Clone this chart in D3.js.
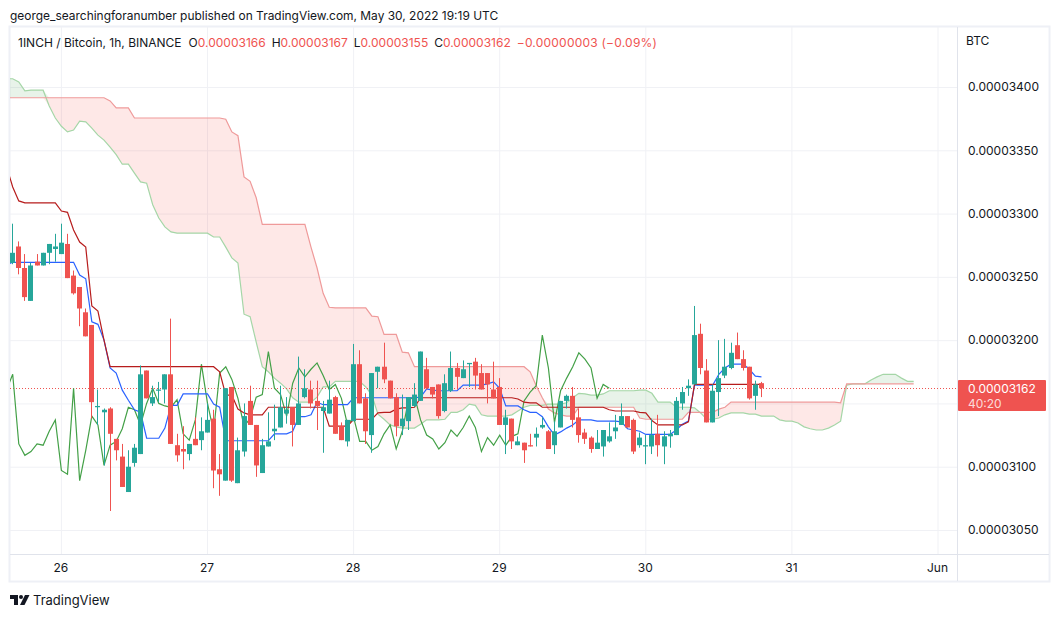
<!DOCTYPE html>
<html>
<head>
<meta charset="utf-8">
<title>1INCH / Bitcoin</title>
<script src="https://cdn.jsdelivr.net/npm/d3@7"></script>
<style>
html, body { margin: 0; padding: 0; background: #fff; }
svg { display: block; font-family: Inter, "Noto Sans", sans-serif; }
.axis path, .axis line { display: none; }
.axis text { font-family: Inter, "Noto Sans", sans-serif; font-size: 12px; fill: #131722; }
.grid path { display: none; }
.grid line { stroke: #f0f1f5; stroke-width: 1; }
</style>
</head>
<body>
<svg id="chart" width="1060" height="617"></svg>
<script>
// all prices in satoshi (1e-8 BTC), bars are hourly from May 25 16:00 UTC
var opens = [
  3261,3274,3257,3231,3262,3259,3269,3272,3268,3276,
  3251,3242,3222,3212,3147,3143,3146,3122,3108,3080,
  3103,3110,3176,3150,3160,3161,3173,3117,3114,3110,
  3122,3121,3127,3138,3098,3089,3163,3087,3112,3152,
  3133,3095,3116,3128,3131,3142,3147,3133,3155,3161,
  3152,3144,3142,3155,3132,3120,3136,3181,3154,3125,
  3175,3179,3168,3155,3132,3136,3148,3152,3177,3163,
  3165,3144,3160,3178,3170,3181,3183,3174,3174,3161,
  3163,3133,3138,3117,3119,3117,3123,3131,3128,3117,
  3131,3152,3156,3139,3127,3123,3114,3116,3120,3128,
  3133,3140,3137,3117,3116,3116,3126,3116,3124,3125,
  3150,3162,3165,3205,3176,3135,3159,3172,3178,3196,
  3185,3179,3156,3166];
var highs = [
  3292,3278,3268,3261,3268,3269,3276,3284,3292,3284,
  3255,3242,3225,3212,3161,3146,3147,3122,3118,3113,
  3118,3180,3176,3164,3167,3173,3217,3126,3132,3118,
  3139,3139,3150,3145,3110,3162,3163,3123,3150,3164,
  3133,3122,3143,3149,3164,3155,3147,3187,3177,3168,
  3168,3152,3168,3156,3135,3137,3197,3192,3158,3174,
  3179,3198,3168,3158,3157,3155,3166,3191,3186,3163,
  3165,3173,3191,3182,3184,3182,3186,3181,3174,3183,
  3170,3145,3138,3124,3119,3126,3131,3139,3129,3136,
  3152,3157,3163,3146,3130,3124,3129,3129,3135,3141,
  3150,3140,3138,3127,3125,3138,3141,3128,3129,3155,
  3163,3169,3227,3213,3185,3165,3200,3201,3198,3206,
  3192,3179,3168,3167];
var lows = [
  3260,3252,3231,3231,3259,3259,3260,3262,3268,3249,
  3236,3211,3203,3138,3133,3101,3065,3105,3084,3080,
  3100,3110,3154,3148,3151,3150,3118,3104,3098,3105,
  3117,3113,3127,3083,3077,3089,3088,3087,3108,3133,
  3092,3095,3116,3121,3131,3134,3116,3133,3154,3146,
  3129,3111,3142,3126,3121,3116,3136,3150,3118,3111,
  3162,3166,3154,3124,3125,3129,3147,3152,3161,3154,
  3138,3143,3159,3161,3170,3163,3161,3161,3150,3154,
  3133,3110,3114,3117,3103,3116,3116,3130,3114,3110,
  3131,3146,3131,3119,3118,3111,3114,3108,3119,3122,
  3133,3131,3110,3115,3102,3110,3108,3102,3115,3125,
  3145,3156,3165,3173,3135,3135,3140,3170,3177,3185,
  3176,3153,3145,3155];
var closes = [
  3269,3257,3234,3259,3259,3269,3276,3274,3277,3249,
  3237,3225,3203,3151,3148,3145,3126,3113,3084,3100,
  3115,3173,3154,3155,3161,3173,3118,3109,3112,3118,
  3117,3128,3137,3097,3094,3162,3089,3113,3140,3133,
  3101,3117,3120,3130,3147,3145,3133,3150,3162,3150,
  3148,3147,3153,3126,3121,3137,3181,3150,3128,3174,
  3179,3169,3154,3132,3138,3155,3157,3191,3162,3157,
  3140,3166,3178,3171,3177,3182,3172,3161,3165,3154,
  3133,3139,3120,3120,3113,3116,3126,3133,3114,3128,
  3152,3156,3137,3125,3122,3114,3119,3129,3124,3131,
  3140,3131,3112,3123,3117,3125,3117,3124,3126,3152,
  3159,3164,3204,3178,3135,3160,3170,3179,3190,3185,
  3178,3154,3165,3162];

// ichimoku lines, all start one bar left of the first candle
var conversion = [
  3259.5,3261.5,3261.5,3261.5,3261.5,3261.5,3261.5,3261.5,3261.5,3261.5,
  3261.5,3261.5,3251.5,3248.5,3214.5,3212.5,3200,3178,3174,3160.5,
  3152.5,3145,3143,3122.5,3122.5,3122.5,3130.5,3148.5,3148.5,3157.5,
  3157.5,3157.5,3157.5,3157.5,3149.5,3147,3120.5,3120.5,3120.5,3120.5,
  3120.5,3120.5,3120.5,3120.5,3126,3126,3126,3128,3139.5,3139.5,
  3141,3151,3149,3149,3149,3149,3149,3154.5,3154.5,3154.5,
  3154.5,3154.5,3154.5,3154.5,3154.5,3154.5,3154.5,3154.5,3155,3161.5,
  3160.5,3160,3160,3160,3160,3164.5,3164.5,3164.5,3164.5,3165.5,
  3167,3162,3148,3148,3148,3145,3143,3143,3139.5,3131.5,
  3125,3127.5,3130.5,3133,3137,3137,3137,3136,3136,3136,
  3136,3135.5,3130,3129,3128,3125.5,3125.5,3125.5,3125.5,3125.5,
  3129,3133.5,3136,3164.5,3164.5,3164.5,3164.5,3173,3178,3181,
  3181,3181,3177,3171.5,3171];
var base = [
  3337,3321,3310,3308.5,3308.5,3308.5,3308.5,3308.5,3308.5,3302,
  3301,3287,3277.5,3273.5,3227,3223,3200,3179,3179,3179,
  3179,3179,3179,3179,3179,3179,3179,3179,3179,3179,
  3179,3179,3179,3179,3179,3175,3156.5,3156.5,3145.5,3142.5,
  3141,3141,3141,3147,3147,3147,3147,3147,3147,3147,
  3147,3147,3147,3132,3132,3132,3132,3137.5,3137.5,3137.5,
  3137.5,3142.5,3143,3143,3145.5,3146.5,3146.5,3147,3154.5,3154.5,
  3154.5,3154.5,3154.5,3154.5,3154.5,3154.5,3154.5,3154.5,3154.5,3154.5,
  3154.5,3154.5,3154.5,3154.5,3153.5,3151,3150.5,3150.5,3147,3147,
  3147,3147,3147,3147,3147,3147,3147,3147,3147,3145,
  3144,3144,3144,3144,3143,3142.5,3136.5,3133,3133,3133,
  3133,3133,3135.5,3165,3165,3165,3165,3165,3165,3165,
  3165,3165,3165,3165,3165];
var lagging = [
  3161,3173,3118,3109,3112,3118,
  3117,3128,3137,3097,3094,3162,3089,3113,3140,3133,
  3101,3117,3120,3130,3147,3145,3133,3150,3162,3150,
  3148,3147,3153,3126,3121,3137,3181,3150,3128,3174,
  3179,3169,3154,3132,3138,3155,3157,3191,3162,3157,
  3140,3166,3178,3171,3177,3182,3172,3161,3165,3154,
  3133,3139,3120,3120,3113,3116,3126,3133,3114,3128,
  3152,3156,3137,3125,3122,3114,3119,3129,3124,3131,
  3140,3131,3112,3123,3117,3125,3117,3124,3126,3152,
  3159,3164,3204,3178,3135,3160,3170,3179,3190,3185,
  3178,3154,3165,3162];
var spanA = [
  3406.5,3406.5,3404,3397,3397.5,3397.5,3397.5,3385,3375.5,3369,
  3364.5,3366,3373,3372.5,3367.5,3362,3358,3352.5,3346.5,3339,
  3339,3332,3325,3324,3307,3296.5,3289.5,3285.5,3284.5,3284.5,
  3284.5,3284.5,3284.5,3284.5,3281.5,3281.5,3273.5,3265,3261,3220.5,
  3218.5,3198.5,3179,3175,3170,3166,3161.5,3154.5,3151,3151,
  3151,3155,3163,3163,3167.5,3167.5,3167.5,3167.5,3167.5,3163,
  3156.5,3141.5,3137.5,3133,3131.5,3130.5,3130.5,3130.5,3133.5,3137,
  3137,3137,3137.5,3143,3143,3145,3149.5,3148.5,3141,3140,
  3140,3140,3140,3141,3144,3147,3148.5,3148.5,3148.5,3149.5,
  3149.5,3149.5,3150.5,3154.5,3158,3157.5,3156.5,3156.5,3157.5,3160,
  3160,3160,3160,3160,3160.5,3160.5,3158,3151,3151,3151,
  3147,3147,3147,3146.5,3142.5,3137.5,3137.5,3138.5,3141,3142.5,
  3142.5,3142.5,3141.5,3141.5,3140,3140,3140,3137,3136,3136,
  3134.5,3131.5,3130,3129,3129,3130.5,3133,3136,3164.5,3165.5,
  3165.5,3165.5,3168.5,3171,3173,3173,3173,3170,3167.5,3167.5];
var spanB = [
  3391.5,3391.5,3391.5,3391.5,3391.5,3391.5,3391.5,3391.5,3391.5,3391.5,
  3391.5,3391.5,3391.5,3391.5,3391.5,3391.5,3391.5,3389,3383.5,3383.5,
  3383.5,3375.5,3375.5,3375.5,3375.5,3375.5,3375.5,3375.5,3375.5,3375.5,
  3375.5,3375.5,3375.5,3375.5,3375.5,3375.5,3374.5,3364.5,3361.5,3329,
  3325.5,3312.5,3291.5,3291.5,3291.5,3291.5,3291.5,3291.5,3291.5,3291.5,
  3273.5,3257,3237,3226,3225.5,3225.5,3225.5,3225.5,3225.5,3225.5,
  3219,3218.5,3204.5,3204.5,3204.5,3190.5,3190,3179,3179,3179,
  3179,3179,3179,3179,3179,3179,3179,3179,3179,3179,
  3179,3179,3179,3179,3179,3179,3175,3164,3154.5,3145.5,
  3142.5,3141,3140,3140,3147,3147,3147,3147,3147,3147,
  3147,3147,3147,3147,3138.5,3137.5,3137.5,3137.5,3137.5,3137.5,
  3137.5,3137.5,3143,3143,3143,3143,3143,3145.5,3147,3151,
  3151,3151,3151,3151,3151,3151,3151,3151,3151,3151,
  3151,3151,3151,3151,3151,3151,3151,3150.5,3165.5,3165.5,
  3165.5,3165.5,3165.5,3165.5,3165.5,3165.5,3165.5,3165.5,3165.5,3165.5];

var priceTicks = [3050, 3100, 3150, 3200, 3250, 3300, 3350, 3400];
var priceLabels = [3050, 3100, 3200, 3250, 3300, 3350, 3400]; // 3150 sits behind the last price tag
var timeTicks = [
  Date.UTC(2022, 4, 26), Date.UTC(2022, 4, 27), Date.UTC(2022, 4, 28), Date.UTC(2022, 4, 29),
  Date.UTC(2022, 4, 30), Date.UTC(2022, 4, 31), Date.UTC(2022, 5, 1)
];
var timeLabels = ["26", "27", "28", "29", "30", "31", "Jun"];
var lastPrice = 3162;
var countdown = "40:20";
var legendParts = [
  ["O", "0.00003166"], ["H", "0.00003167"], ["L", "0.00003155"], ["C", "0.00003162"]
];

var green = "#26a69a", red = "#ef5350";
var hour = 3600000, firstBar = Date.UTC(2022, 4, 25, 16);
var paneL = 10, paneR = 957, paneT = 27, paneB = 554;

var svg = d3.select("#chart");
var x = d3.scaleUtc().domain([firstBar, firstBar + 152 * hour]).range([12.7, 938]);
var y = d3.scaleLinear().domain([3050, 3400]).range([530, 87]);
function barX(i) { return x(firstBar + i * hour); }
function lineX(d, i) { return barX(i - 1); }
function price(v) { return (v * 1e-8).toFixed(8); }

// frame
svg.append("rect").attr("x", 9.5).attr("y", 26.5).attr("width", 1040).attr("height", 555)
  .attr("fill", "#fff").attr("stroke", "#eef0f6").attr("stroke-width", 2);

// grid
svg.append("g").attr("class", "grid").attr("transform", "translate(-0.5," + paneT + ")")
  .call(d3.axisBottom(x).tickValues(timeTicks).tickSize(paneB - paneT).tickFormat(""));
svg.append("g").attr("class", "grid").attr("transform", "translate(" + paneL + ",0)")
  .call(d3.axisRight(y).tickValues(priceTicks).tickSize(paneR - paneL).tickFormat(""));

svg.append("clipPath").attr("id", "pane").append("rect")
  .attr("x", paneL).attr("y", paneT).attr("width", paneR - paneL).attr("height", paneB - paneT);
var pane = svg.append("g").attr("clip-path", "url(#pane)");

// cloud
var cloudIdx = d3.range(spanA.length);
var areaGreen = d3.area().x(function (i) { return barX(i - 1); })
  .y0(function (i) { return y(spanB[i]); })
  .y1(function (i) { return y(Math.max(spanA[i], spanB[i])); });
var areaRed = d3.area().x(function (i) { return barX(i - 1); })
  .y0(function (i) { return y(spanB[i]); })
  .y1(function (i) { return y(Math.min(spanA[i], spanB[i])); });
pane.append("path").attr("d", areaGreen(cloudIdx)).attr("fill", "#43a047").attr("fill-opacity", 0.12);
pane.append("path").attr("d", areaRed(cloudIdx)).attr("fill", "#f44336").attr("fill-opacity", 0.12);

var line = d3.line().x(lineX).y(function (d) { return y(d); });
pane.append("path").attr("d", line(spanA)).attr("fill", "none").attr("stroke", "#a5d6a7").attr("stroke-width", 1.2);
pane.append("path").attr("d", line(spanB)).attr("fill", "none").attr("stroke", "#ef9a9a").attr("stroke-width", 1.2);

// last price line
pane.append("line").attr("x1", paneL).attr("x2", paneR)
  .attr("y1", Math.round(y(lastPrice)) + 0.5).attr("y2", Math.round(y(lastPrice)) + 0.5)
  .attr("stroke", red).attr("stroke-width", 1).attr("stroke-dasharray", "1 2");

// ichimoku lines sit under the candles
pane.append("path").attr("d", line(lagging)).attr("fill", "none").attr("stroke", "#43a047").attr("stroke-width", 1.2);
pane.append("path").attr("d", line(conversion)).attr("fill", "none").attr("stroke", "#2962ff").attr("stroke-width", 1.2);
pane.append("path").attr("d", line(base)).attr("fill", "none").attr("stroke", "#b71c1c").attr("stroke-width", 1.2);

// candles
var candles = pane.selectAll(".candle").data(d3.range(opens.length)).enter().append("g");
function candleColor(i) { return closes[i] >= opens[i] ? green : red; }
candles.append("line")
  .attr("x1", function (i) { return Math.floor(barX(i)) + 0.5; })
  .attr("x2", function (i) { return Math.floor(barX(i)) + 0.5; })
  .attr("y1", function (i) { return y(highs[i]); })
  .attr("y2", function (i) { return y(lows[i]); })
  .attr("stroke", candleColor);
candles.append("rect")
  .attr("x", function (i) { return Math.floor(barX(i)) - 2; })
  .attr("width", 5)
  .attr("y", function (i) { return y(Math.max(opens[i], closes[i])); })
  .attr("height", function (i) { return Math.max(1, Math.abs(y(opens[i]) - y(closes[i]))); })
  .attr("fill", candleColor);

// pane borders
svg.append("line").attr("x1", paneR + 0.5).attr("x2", paneR + 0.5).attr("y1", paneT).attr("y2", 581).attr("stroke", "#e0e3eb");
svg.append("line").attr("x1", paneL).attr("x2", 1049).attr("y1", paneB + 0.5).attr("y2", paneB + 0.5).attr("stroke", "#e0e3eb");

// axes
svg.append("g").attr("class", "axis").attr("transform", "translate(" + paneR + ",0)")
  .call(d3.axisRight(y).tickValues(priceLabels).tickSize(0).tickPadding(11).tickFormat(price));
svg.append("g").attr("class", "axis").attr("transform", "translate(-1," + paneB + ")")
  .call(d3.axisBottom(x).tickValues(timeTicks).tickSize(0).tickPadding(9)
    .tickFormat(function (d, i) { return timeLabels[i]; }));

svg.append("text").attr("x", 966).attr("y", 45).attr("font-size", 12).attr("fill", "#131722").text("BTC");

// last price label
var labelG = svg.append("g");
labelG.append("rect").attr("x", 958).attr("y", 380).attr("width", 88).attr("height", 31).attr("rx", 1).attr("fill", red);
labelG.append("text").attr("x", 968).attr("y", 392.5).attr("font-size", 12).attr("fill", "#fff").text(price(lastPrice));
labelG.append("text").attr("x", 968).attr("y", 407.5).attr("font-size", 12).attr("fill", "#fff").attr("fill-opacity", 0.8).text(countdown);

// header and legend
svg.append("text").attr("x", 10).attr("y", 20).attr("font-size", 11.95).attr("fill", "#131722")
  .text("george_searchingforanumber published on TradingView.com, May 30, 2022 19:19 UTC");
var legend = svg.append("text").attr("x", 18).attr("y", 47).attr("font-size", 12).attr("fill", "#131722");
legend.append("tspan").text("1INCH / Bitcoin, 1h, BINANCE");
legendParts.forEach(function (p, i) {
  legend.append("tspan").attr("dx", i == 0 ? 7 : 6).text(p[0]);
  legend.append("tspan").attr("fill", red).text(p[1]);
});
legend.append("tspan").attr("dx", 6).attr("fill", red).attr("letter-spacing", 0.22)
  .text("\u22120.00000003 (\u22120.09%)");

// footer logo
var logo = svg.append("g").attr("transform", "translate(10,595)").attr("fill", "#131722");
logo.append("path").attr("d", "M0 0H8V10H4V4H0Z");
logo.append("circle").attr("cx", 11).attr("cy", 2).attr("r", 2);
logo.append("path").attr("d", "M15 0H19.5L14.5 10H10Z");
svg.append("text").attr("x", 33).attr("y", 605).attr("font-size", 13).attr("fill", "#131722").text("TradingView");
</script>
</body>
</html>
